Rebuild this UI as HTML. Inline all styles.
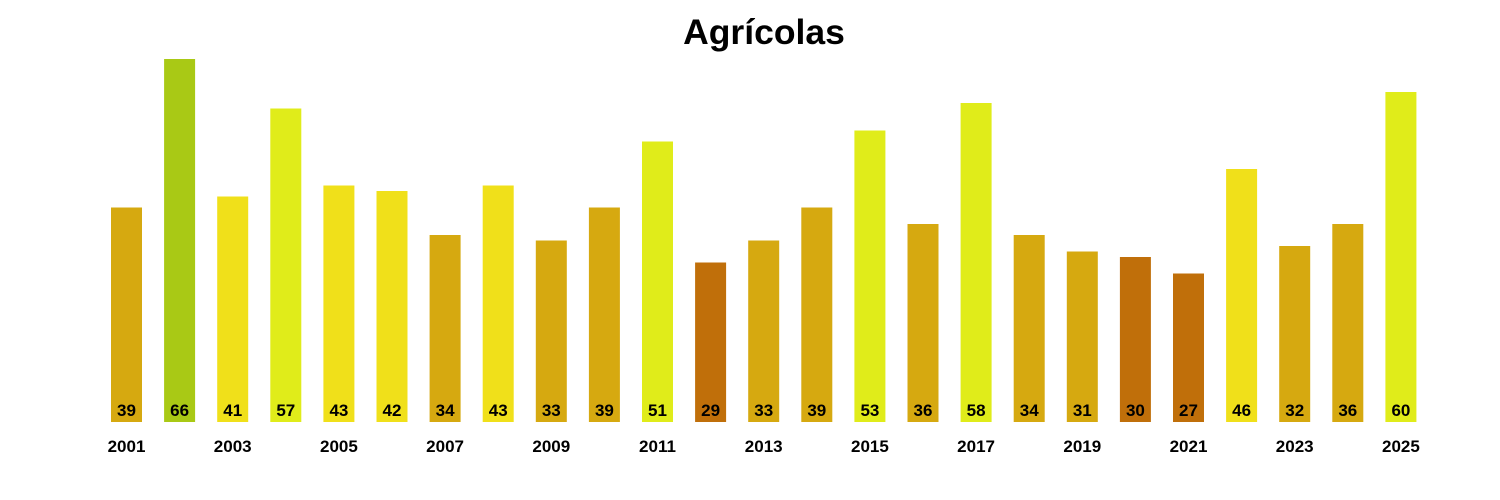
<!DOCTYPE html>
<html><head><meta charset="utf-8"><style>
html,body{margin:0;padding:0;background:#fff;}
svg{display:block;font-family:"Liberation Sans",Arial,sans-serif;}
.a{fill:#D6A910}.b{fill:#A9C915}.c{fill:#F0E01A}.d{fill:#E0EC1A}.e{fill:#C06F0A}
text{font-weight:bold;}
.v text{font-size:17px;text-anchor:middle;}
</style></head><body>
<svg width="1500" height="500" xmlns="http://www.w3.org/2000/svg">
<text x="764" y="44" text-anchor="middle" font-size="35.5">Agrícolas</text>
<g>
<rect class="a" x="111.0" y="207.5" width="31" height="214.5"/>
<rect class="b" x="164.1" y="59" width="31" height="363"/>
<rect class="c" x="217.2" y="196.5" width="31" height="225.5"/>
<rect class="d" x="270.3" y="108.5" width="31" height="313.5"/>
<rect class="c" x="323.4" y="185.5" width="31" height="236.5"/>
<rect class="c" x="376.5" y="191" width="31" height="231"/>
<rect class="a" x="429.6" y="235" width="31" height="187"/>
<rect class="c" x="482.7" y="185.5" width="31" height="236.5"/>
<rect class="a" x="535.8" y="240.5" width="31" height="181.5"/>
<rect class="a" x="588.9" y="207.5" width="31" height="214.5"/>
<rect class="d" x="642.0" y="141.5" width="31" height="280.5"/>
<rect class="e" x="695.1" y="262.5" width="31" height="159.5"/>
<rect class="a" x="748.2" y="240.5" width="31" height="181.5"/>
<rect class="a" x="801.3" y="207.5" width="31" height="214.5"/>
<rect class="d" x="854.4" y="130.5" width="31" height="291.5"/>
<rect class="a" x="907.5" y="224" width="31" height="198"/>
<rect class="d" x="960.6" y="103" width="31" height="319"/>
<rect class="a" x="1013.7" y="235" width="31" height="187"/>
<rect class="a" x="1066.8" y="251.5" width="31" height="170.5"/>
<rect class="e" x="1119.9" y="257" width="31" height="165"/>
<rect class="e" x="1173.0" y="273.5" width="31" height="148.5"/>
<rect class="c" x="1226.1" y="169" width="31" height="253"/>
<rect class="a" x="1279.2" y="246" width="31" height="176"/>
<rect class="a" x="1332.3" y="224" width="31" height="198"/>
<rect class="d" x="1385.4" y="92" width="31" height="330"/>
</g>
<g class="v">
<text x="126.5" y="416">39</text>
<text x="179.6" y="416">66</text>
<text x="232.7" y="416">41</text>
<text x="285.8" y="416">57</text>
<text x="338.9" y="416">43</text>
<text x="392.0" y="416">42</text>
<text x="445.1" y="416">34</text>
<text x="498.2" y="416">43</text>
<text x="551.3" y="416">33</text>
<text x="604.4" y="416">39</text>
<text x="657.5" y="416">51</text>
<text x="710.6" y="416">29</text>
<text x="763.7" y="416">33</text>
<text x="816.8" y="416">39</text>
<text x="869.9" y="416">53</text>
<text x="923.0" y="416">36</text>
<text x="976.1" y="416">58</text>
<text x="1029.2" y="416">34</text>
<text x="1082.3" y="416">31</text>
<text x="1135.4" y="416">30</text>
<text x="1188.5" y="416">27</text>
<text x="1241.6" y="416">46</text>
<text x="1294.7" y="416">32</text>
<text x="1347.8" y="416">36</text>
<text x="1400.9" y="416">60</text>
</g>
<g class="v">
<text x="126.5" y="452">2001</text>
<text x="232.7" y="452">2003</text>
<text x="338.9" y="452">2005</text>
<text x="445.1" y="452">2007</text>
<text x="551.3" y="452">2009</text>
<text x="657.5" y="452">2011</text>
<text x="763.7" y="452">2013</text>
<text x="869.9" y="452">2015</text>
<text x="976.1" y="452">2017</text>
<text x="1082.3" y="452">2019</text>
<text x="1188.5" y="452">2021</text>
<text x="1294.7" y="452">2023</text>
<text x="1400.9" y="452">2025</text>
</g>
</svg>
</body></html>
